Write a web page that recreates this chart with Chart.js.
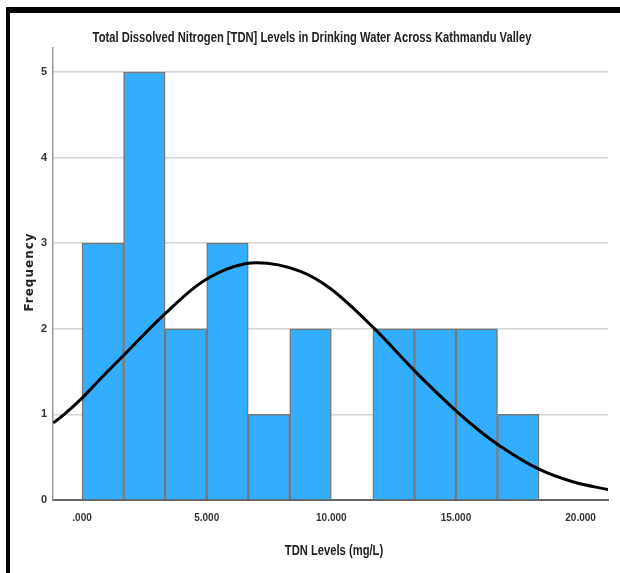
<!DOCTYPE html>
<html>
<head>
<meta charset="utf-8">
<script src="https://cdn.jsdelivr.net/npm/chart.js@4"></script>
<style>
  html, body { margin: 0; padding: 0; background: #fff; }
  #wrap { position: relative; width: 620px; height: 573px; }
  #frame {
    position: absolute; left: 6px; top: 7px; width: 614px; height: 566px;
    border-top: 6px solid #000; border-left: 4px solid #000; box-sizing: border-box;
  }
  #chart { position: absolute; left: 0; top: 0; }
</style>
</head>
<body>
<div id="wrap">
  <div id="frame"></div>
  <canvas id="chart" width="620" height="573"></canvas>
</div>
<script>
// histogram bins (lower edge, mg/L) and their frequencies
const binStarts = [0, 1.667, 3.333, 5, 6.667, 8.333, 10, 11.667, 13.333, 15, 16.667];
const binWidth = 1.667;
const counts = [3, 5, 2, 3, 1, 2, 0, 2, 2, 2, 1];

// fitted normal curve, sampled along the axis
const curveX = [-1.15, -0.68, 0, 0.72, 1.6, 3.27, 4.94, 7.0, 8.76, 9.96, 11.7, 13.37, 15.05, 15.98, 16.72, 18.33, 19.72, 21.14];
const curveY = [0.90, 1.01, 1.19, 1.41, 1.67, 2.16, 2.57, 2.77, 2.67, 2.47, 2.01, 1.50, 1.03, 0.80, 0.64, 0.36, 0.21, 0.12];

const xTickValues = [0, 5, 10, 15, 20];
const xTickLabels = ['.000', '5.000', '10.000', '15.000', '20.000'];
const yTickValues = [0, 1, 2, 3, 4, 5];

const chartTitle = 'Total Dissolved Nitrogen [TDN] Levels in Drinking Water Across Kathmandu Valley';
const xTitle = 'TDN Levels (mg/L)';
const yTitle = 'Frequency';

const sans = "'Liberation Sans', Arial, sans-serif";

const barData = binStarts.map((s, i) => ({ x: s + binWidth / 2, y: counts[i] }));
const lineData = curveX.map((x, i) => ({ x: x, y: curveY[i] }));

// narrow text: squeeze a normal face horizontally
function narrowText(ctx, text, cx, cy, size, squeeze) {
    ctx.save();
    ctx.font = 'bold ' + size + 'px ' + sans;
    ctx.textAlign = 'center';
    ctx.textBaseline = 'middle';
    ctx.translate(cx, cy);
    ctx.scale(squeeze, 1);
    ctx.fillText(text, 0, 0);
    ctx.restore();
}

const titles = {
    id: 'titles',
    afterDraw(chart) {
        const ctx = chart.ctx;
        ctx.save();
        ctx.fillStyle = '#222';
        narrowText(ctx, chartTitle, 312, 38, 14, 0.8);
        narrowText(ctx, xTitle, 334, 551, 14, 0.8);
        ctx.translate(30, 272);
        ctx.rotate(-Math.PI / 2);
        ctx.font = "bold 12px 'DejaVu Sans', sans-serif";
        ctx.letterSpacing = '1px';
        ctx.textAlign = 'center';
        ctx.textBaseline = 'middle';
        ctx.fillText(yTitle, 0, 0);
        ctx.restore();
    }
};

new Chart(document.getElementById('chart'), {
    data: {
        datasets: [
            {
                type: 'line',
                data: lineData,
                borderColor: '#000',
                borderWidth: 3,
                pointRadius: 0,
                cubicInterpolationMode: 'monotone',
                order: 0
            },
            {
                type: 'bar',
                data: barData,
                backgroundColor: '#33adfd',
                borderColor: '#777',
                borderWidth: 1.5,
                barPercentage: 1,
                categoryPercentage: 1,
                order: 1
            }
        ]
    },
    options: {
        responsive: false,
        animation: false,
        layout: { padding: { left: 0, right: 12, top: 48, bottom: 0 } },
        plugins: {
            legend: { display: false },
            tooltip: { enabled: false },
            title: { display: false }
        },
        scales: {
            x: {
                type: 'linear',
                offset: false,
                min: -1.165,
                max: 21.1,
                afterBuildTicks: (scale) => { scale.ticks = xTickValues.map(v => ({ value: v })); },
                afterFit: (scale) => { scale.height = 73; },
                grid: { display: false, drawTicks: false },
                border: { color: '#666', width: 2 },
                ticks: {
                    padding: 12,
                    color: '#333',
                    font: { family: sans, size: 10, weight: 'bold' },
                    callback: (v) => xTickLabels[xTickValues.indexOf(v)],
                    maxRotation: 0
                }
            },
            y: {
                type: 'linear',
                min: 0,
                max: 5.28,
                afterBuildTicks: (scale) => { scale.ticks = yTickValues.map(v => ({ value: v })); },
                afterFit: (scale) => { scale.width = 53; },
                grid: { color: '#d4d4d4', lineWidth: 1.5, drawTicks: false },
                border: { color: '#999', width: 1.5 },
                ticks: {
                    padding: 6,
                    color: '#333',
                    font: { family: sans, size: 11, weight: 'bold' }
                }
            }
        }
    },
    plugins: [titles]
});
</script>
</body>
</html>
